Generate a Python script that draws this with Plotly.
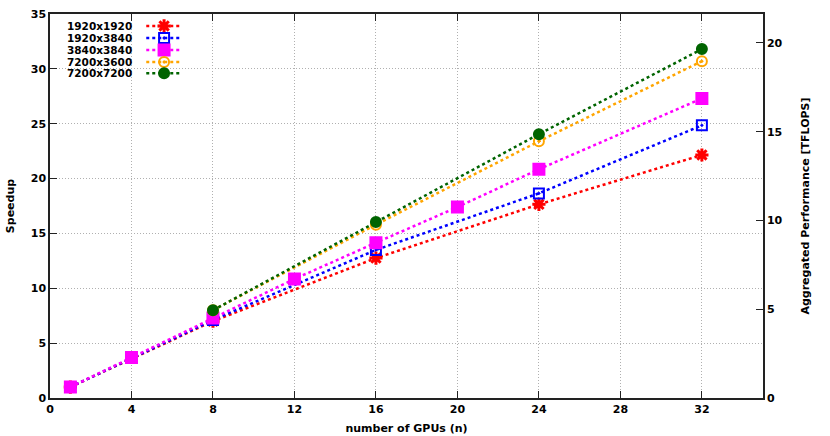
import plotly.graph_objects as go

# speedup values
gpus_small = [1, 8, 16, 24, 32]
gpus_3840 = [1, 4, 8, 12, 16, 20, 24, 32]
gpus_large = [8, 16, 24, 32]

s_1920x1920 = [1.0, 7.0, 12.75, 17.65, 22.15]
s_1920x3840 = [1.0, 7.1, 13.5, 18.65, 24.85]
s_3840x3840 = [1.0, 3.7, 7.3, 10.85, 14.15, 17.4, 20.85, 27.3]
s_7200x3600 = [8.0, 15.8, 23.4, 30.7]
s_7200x7200 = [8.0, 16.05, 24.05, 31.8]

x_ticks = [0, 4, 8, 12, 16, 20, 24, 28, 32]

FONT = "DejaVu Sans"
series = [
    ("1920x1920", gpus_small, s_1920x1920, "#ff0000", "asterisk-open", 11, 3),
    ("1920x3840", gpus_small, s_1920x3840, "#0000ff", "square-open-dot", 10, 2),
    ("3840x3840", gpus_3840, s_3840x3840, "#ff00ff", "square", 11, 2),
    ("7200x3600", gpus_large, s_7200x3600, "#ffa500", "circle-open-dot", 10, 2),
    ("7200x7200", gpus_large, s_7200x7200, "#006400", "circle", 10, 2),
]

fig = go.Figure()
for name, xs, ys, color, sym, size, lw in series:
    fig.add_trace(go.Scatter(
        x=xs, y=ys, name=name, mode="lines+markers",
        line=dict(color=color, width=2.5, dash="3px,3px"),
        marker=dict(symbol=sym, size=size, color=color,
                    line=dict(color=color, width=lw)),
        showlegend=False))

# gnuplot-style key: label on the left, sample on the right
row_y = [0.969, 0.9375, 0.906, 0.875, 0.846]
for (name, xs, ys, color, sym, size, lw), ry in zip(series, row_y):
    fig.add_trace(go.Scatter(
        x=[0.135, 0.185], y=[ry, ry], xaxis="x2", yaxis="y3",
        mode="lines", line=dict(color=color, width=2.5, dash="3px,3px"),
        showlegend=False, hoverinfo="skip"))
    fig.add_trace(go.Scatter(
        x=[0.160], y=[ry], xaxis="x2", yaxis="y3", mode="markers",
        marker=dict(symbol=sym, size=size, color=color,
                    line=dict(color=color, width=lw)),
        showlegend=False, hoverinfo="skip"))
    fig.add_annotation(x=0.118, y=ry, xref="paper", yref="paper",
                       text=name, showarrow=False, xanchor="right",
                       yanchor="middle",
                       font=dict(family=FONT, size=10.5, color="black",
                                 weight="bold"))

tickfont = dict(family=FONT, size=11, color="black", weight="bold")
titlefont = dict(family=FONT, size=11, color="black", weight="bold")
grid = dict(showgrid=True, gridcolor="#b0b0b0", griddash="1px,2px",
            gridwidth=1)

fig.update_layout(
    width=830, height=436,
    margin=dict(l=50, r=67, t=14, b=38, autoexpand=False),
    paper_bgcolor="white", plot_bgcolor="white",
    xaxis=dict(range=[0, 35], tickvals=x_ticks, ticks="inside", ticklen=7,
               tickcolor="#222222", showline=True, linecolor="#222222",
               linewidth=1.5, mirror="ticks", zeroline=False,
               tickfont=tickfont, automargin=False,
               title=dict(text="number of GPUs (n)", font=titlefont,
                          standoff=9), **grid),
    xaxis2=dict(range=[0, 1], overlaying="x", visible=False),
    yaxis=dict(range=[0, 35], dtick=5, ticks="inside", ticklen=7,
               tickcolor="#222222", showline=True, linecolor="#222222",
               linewidth=1.5, mirror=True, zeroline=False,
               tickfont=tickfont, automargin=False,
               title=dict(text="Speedup", font=titlefont, standoff=14),
               **grid),
    yaxis2=dict(range=[0, 21.63], tickvals=[0, 5, 10, 15, 20],
                overlaying="y", side="right", ticks="inside", ticklen=7,
                tickcolor="#222222", showline=True, linecolor="#222222",
                linewidth=1.5, showgrid=False, zeroline=False,
                tickfont=tickfont, automargin=False,
                title=dict(text="Aggregated Performance [TFLOPS]",
                           font=titlefont, standoff=20)),
    yaxis3=dict(range=[0, 1], overlaying="y", visible=False),
)

# dummy trace so the right axis is drawn
fig.add_trace(go.Scatter(x=[None], y=[None], yaxis="y2", showlegend=False))

fig.write_html("out.html", config={"displayModeBar": False},
               post_script="document.body.style.margin='0';")
